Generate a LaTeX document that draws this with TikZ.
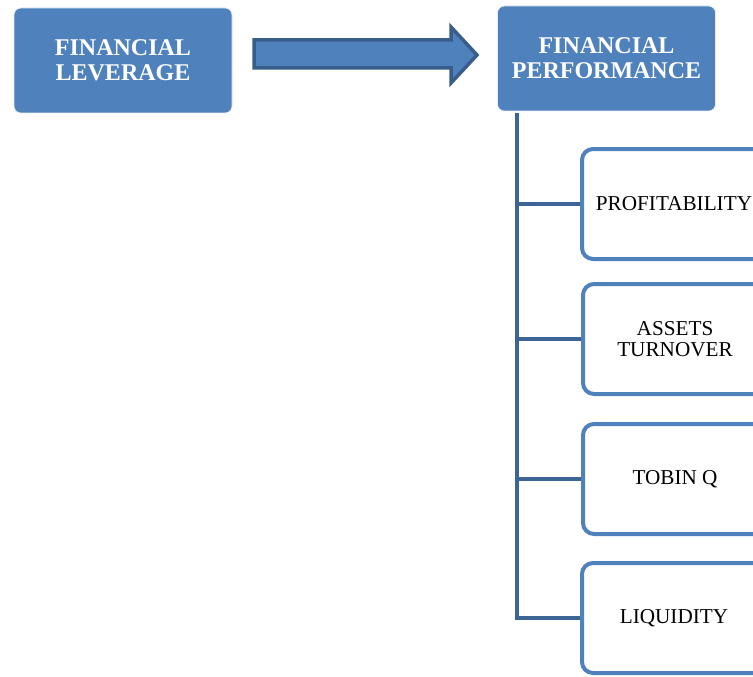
\documentclass[tikz,border=0pt]{standalone}
\usepackage{fontspec}
\setmainfont{Liberation Serif}
\definecolor{boxblue}{HTML}{4F81BD}
\definecolor{lineblue}{HTML}{3C6494}
\definecolor{arrowedge}{HTML}{385D8A}
\tikzset{
  x=1pt, y=-1pt,
  headbox/.style={draw=white!85!boxblue, line width=0.6pt, fill=boxblue, rounded corners=7pt,
    minimum width=218pt, minimum height=105pt, text=white, align=center,
    font=\fontsize{24}{25}\selectfont\bfseries},
  subbox/.style={draw=boxblue, line width=4pt, fill=white, rounded corners=11pt,
    minimum width=184pt, minimum height=110pt, align=center,
    font=\fontsize{21.2}{20.5}\selectfont},
  conn/.style={draw=lineblue, line width=4pt},
  blockarrow/.style={draw=arrowedge, line width=3.5pt, fill=boxblue, line join=miter}
}
\begin{document}
\begin{tikzpicture}
\useasboundingbox (0,0) rectangle (753,677);
\begin{scope}
\clip (0,0) rectangle (753,677);
\node[headbox] (fl) at (123,60.5) {FINANCIAL\\LEVERAGE};
\node[headbox] (fp) at (606.5,58.5) {FINANCIAL\\PERFORMANCE};
\node[subbox] (p1) at (674,204) {PROFITABILITY};
\node[subbox] (p2) at (675,339) {ASSETS\\TURNOVER};
\node[subbox] (p3) at (675,479) {TOBIN Q};
\node[subbox] (p4) at (674,618) {LIQUIDITY};
% block arrow
\coordinate (a0) at (254,40);
\draw[blockarrow] (a0) -- (451,40) -- (451,27) -- (477,55) -- (451,83) -- (451,68) -- (254,68) -- cycle;
% trunk
\coordinate (trunk) at (517,113);
\draw[conn] (trunk) -- (trunk |- p4.west) -- (p4.west);
\draw[conn] (trunk |- p1.west) -- (p1.west);
\draw[conn] (trunk |- p2.west) -- (p2.west);
\draw[conn] (trunk |- p3.west) -- (p3.west);
\end{scope}
\end{tikzpicture}
\end{document}
